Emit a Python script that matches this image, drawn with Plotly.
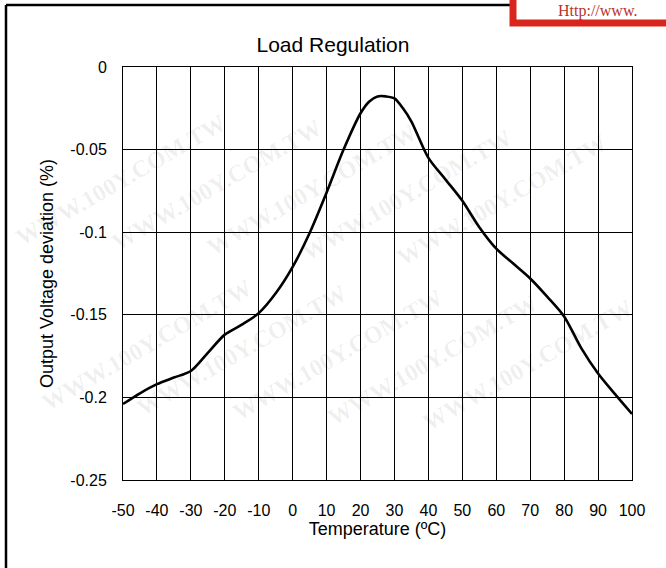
import math
import plotly.graph_objects as go

# ---- data ----
temperature_c = [-50, -45, -40, -35, -30, -25, -20, -15, -10, -5, 0, 5, 10, 15, 20,
                 22.5, 25, 27.5, 30, 32.5, 35, 40, 45, 50, 55, 60, 65, 70, 75, 80,
                 85, 90, 95, 100]
deviation_pct = [-0.204, -0.1975, -0.192, -0.188, -0.184, -0.173, -0.162, -0.156,
                 -0.149, -0.137, -0.121, -0.1005, -0.076, -0.050, -0.028,
                 -0.021, -0.0178, -0.0178, -0.019, -0.025, -0.033, -0.055, -0.068,
                 -0.081, -0.097, -0.110, -0.119, -0.128, -0.139, -0.151,
                 -0.170, -0.1855, -0.198, -0.210]
x_ticks = [-50, -40, -30, -20, -10, 0, 10, 20, 30, 40, 50, 60, 70, 80, 90, 100]
y_ticks = [0, -0.05, -0.1, -0.15, -0.2, -0.25]
y_tick_text = ["0", "-0.05", "-0.1", "-0.15", "-0.2", "-0.25"]

W, H = 666, 568
L, R, T, B = 123, 34, 67, 88
PW, PH = W - L - R, H - T - B


def px(xp):
    return (xp - L) / PW


def py(yp):
    return (H - B - yp) / PH


FONT = "Liberation Sans, Arial, sans-serif"

fig = go.Figure()
fig.add_trace(go.Scatter(
    x=temperature_c, y=deviation_pct, mode="lines",
    line=dict(color="black", width=2.6, shape="spline", smoothing=0.8),
    hoverinfo="x+y", showlegend=False,
))

fig.update_layout(
    width=W, height=H,
    margin=dict(l=L, r=R, t=T, b=B, autoexpand=False),
    paper_bgcolor="white", plot_bgcolor="white",
    font=dict(family=FONT, color="black", size=16),
    title=dict(text="Load Regulation", x=px(377.5), xanchor="center",
               y=1 - 45 / H, yanchor="middle",
               font=dict(family=FONT, size=21, color="black")),
    xaxis=dict(
        range=[-50, 100], tickvals=x_ticks, ticktext=[str(v) for v in x_ticks],
        showgrid=True, gridcolor="black", gridwidth=1, zeroline=False,
        showline=True, linecolor="black", linewidth=1, mirror=True,
        ticks="", ticklabelstandoff=16,
        tickfont=dict(family=FONT, size=16),
        title=dict(text="Temperature (ºC)", standoff=4,
                   font=dict(family=FONT, size=18)),
    ),
    yaxis=dict(
        range=[-0.25, 0], tickvals=y_ticks, ticktext=y_tick_text,
        showgrid=True, gridcolor="black", gridwidth=1, zeroline=False,
        showline=True, linecolor="black", linewidth=1, mirror=True,
        ticks="", ticklabelstandoff=12,
        tickfont=dict(family=FONT, size=16),
        title=dict(text="Output Voltage deviation (%)", standoff=12,
                   font=dict(family=FONT, size=18)),
    ),
)

# faint watermark pattern, only copies that fit fully inside the canvas
ang = math.radians(30)
dx, dy = math.cos(ang), -math.sin(ang)
half_w, half_h = 112, 68
annots = []
for j in range(-8, 20):
    y0 = 10 + 60 * j
    for k in range(-4, 8):
        t = 300 * k + (j * 110) % 300
        cx, cy = t * dx, y0 + t * dy
        if half_w < cx < W - half_w and half_h < cy < H - half_h:
            annots.append(dict(
                text="<b>WWW.100Y.COM.TW</b>", x=px(cx), y=py(cy),
                xref="paper", yref="paper",
                showarrow=False, textangle=-30, xanchor="center", yanchor="middle",
                font=dict(family="Liberation Serif, serif", size=24,
                          color="rgba(0,0,0,0.07)"),
            ))

# outer frame and the red stamp box in the top-right corner
fig.add_shape(type="line", xref="paper", yref="paper",
              x0=px(6), x1=px(6), y0=py(5), y1=py(H + 20),
              line=dict(color="black", width=2.5))
fig.add_shape(type="line", xref="paper", yref="paper",
              x0=px(6), x1=px(510), y0=py(5), y1=py(5),
              line=dict(color="black", width=2.5))
fig.add_shape(type="rect", xref="paper", yref="paper",
              x0=px(513), x1=px(W + 20), y0=py(-20), y1=py(23),
              line=dict(color="#d8261e", width=7), fillcolor="white")
annots.append(dict(
    text="Http://www.", x=px(556), y=py(0), xref="paper", yref="paper",
    showarrow=False, xanchor="left", yanchor="top",
    font=dict(family="Liberation Serif, serif", size=16, color="#b8332b"),
))
fig.update_layout(annotations=annots)

fig.write_html(
    "out.html",
    config={"displayModeBar": False},
    post_script="document.body.style.margin='0';document.body.style.padding='0';"
                "document.body.style.overflow='hidden';",
)
